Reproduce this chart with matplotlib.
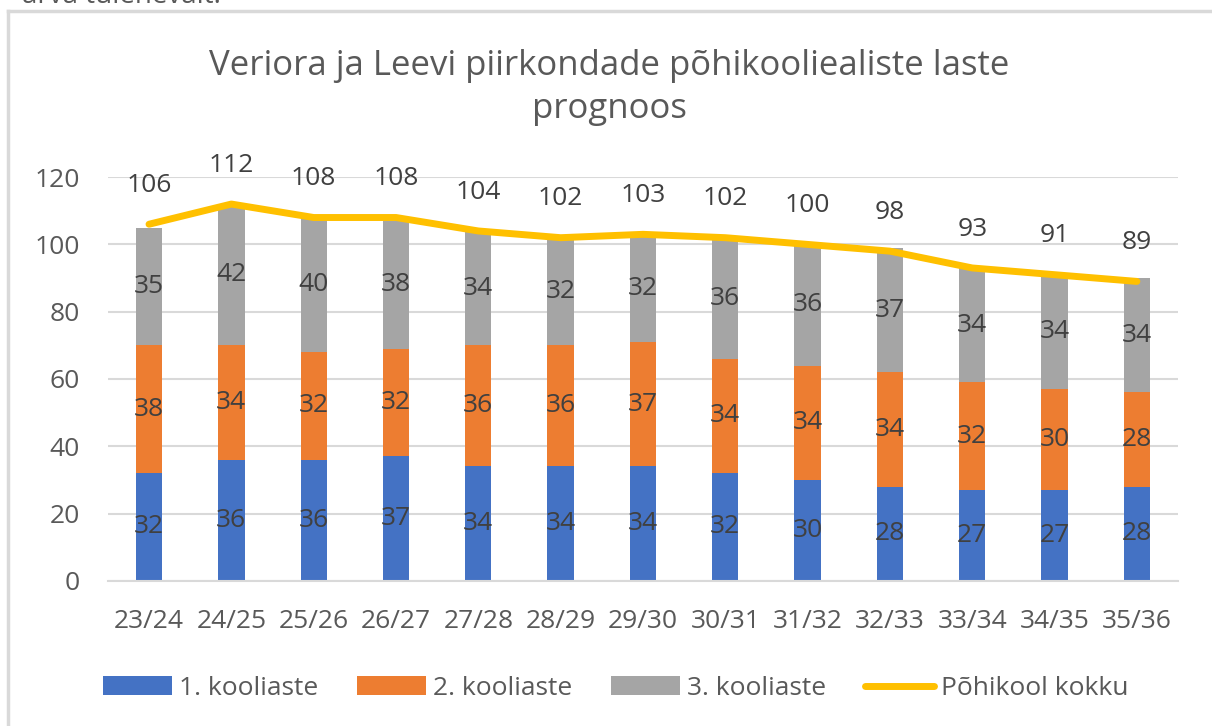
import matplotlib
matplotlib.use("Agg")
import matplotlib.pyplot as plt
import numpy as np

plt.rcParams['font.family'] = ['Open Sans', 'DejaVu Sans']

# andmed
years = ['23/24', '24/25', '25/26', '26/27', '27/28', '28/29', '29/30',
         '30/31', '31/32', '32/33', '33/34', '34/35', '35/36']
aste1 = [32, 36, 36, 37, 34, 34, 34, 32, 30, 28, 27, 27, 28]
aste2 = [38, 34, 32, 32, 36, 36, 37, 34, 34, 34, 32, 30, 28]
aste3 = [35, 42, 40, 38, 34, 32, 32, 36, 36, 37, 34, 34, 34]
kokku = [106, 112, 108, 108, 104, 102, 103, 102, 100, 98, 93, 91, 89]

blue = '#4472C4'
orange = '#ED7D31'
gray = '#A5A5A5'
yellow = '#FFC000'
txt = '#595959'
fs = 19

fig = plt.figure(figsize=(12.12, 7.26), dpi=100)
ax = fig.add_axes([0.089, 0.2, 0.883, 0.556])

x = np.arange(len(years))
w = 0.32
a1 = np.array(aste1)
a2 = np.array(aste2)
a3 = np.array(aste3)

b1 = ax.bar(x, a1, w, color=blue, label='1. kooliaste', zorder=2)
b2 = ax.bar(x, a2, w, bottom=a1, color=orange, label='2. kooliaste', zorder=2)
b3 = ax.bar(x, a3, w, bottom=a1 + a2, color=gray, label='3. kooliaste', zorder=2)
ln, = ax.plot(x, kokku, color=yellow, lw=5, solid_capstyle='round',
              label='Põhikool kokku', zorder=3)

for bars, vals in [(b1, a1), (b2, a2), (b3, a3)]:
    ax.bar_label(bars, labels=[str(v) for v in vals], label_type='center',
                 fontsize=fs, color='#404040')

for xi, v in zip(x, kokku):
    ax.annotate(str(v), (xi, v), xytext=(0, 28), textcoords='offset points',
                ha='center', va='center', fontsize=fs, color='#404040',
                annotation_clip=False)

ax.set_ylim(0, 120)
ax.set_xlim(-0.5, len(years) - 0.5)
ax.set_yticks(range(0, 121, 20))
ax.set_xticks(x)
ax.set_xticklabels(years)
ax.tick_params(length=0, labelsize=fs, labelcolor=txt)
ax.tick_params(axis='x', pad=20)
ax.tick_params(axis='y', pad=20)
ax.grid(axis='y', color='#D9D9D9', lw=1.5, zorder=0)
for s in ['top', 'right', 'left']:
    ax.spines[s].set_visible(False)
ax.spines['bottom'].set_color('#D9D9D9')
ax.spines['bottom'].set_linewidth(1.5)

fig.text(0.503, 0.88, 'Veriora ja Leevi piirkondade põhikooliealiste laste\nprognoos',
         ha='center', va='center', fontsize=25, color=txt, linespacing=1.35)

fig.legend(handles=[b1, b2, b3, ln], loc='center', bbox_to_anchor=(0.508, 0.052),
           ncol=4, frameon=False, fontsize=fs, labelcolor=txt,
           handlelength=2.6, handletextpad=0.25, columnspacing=1.5)

# raam ja üleval pooleldi näha olev tekst
fig.add_artist(plt.Line2D([0.0066, 0.0066], [0, 0.985], color='#D9D9D9', lw=2.5))
fig.add_artist(plt.Line2D([0.0066, 1.0], [0.985, 0.985], color='#D9D9D9', lw=2.5))
fig.text(0.018, 1.005, 'arva tulenevalt.', ha='left', va='center', fontsize=20, color=txt)

fig.savefig('out.png', dpi=100, facecolor='white')
